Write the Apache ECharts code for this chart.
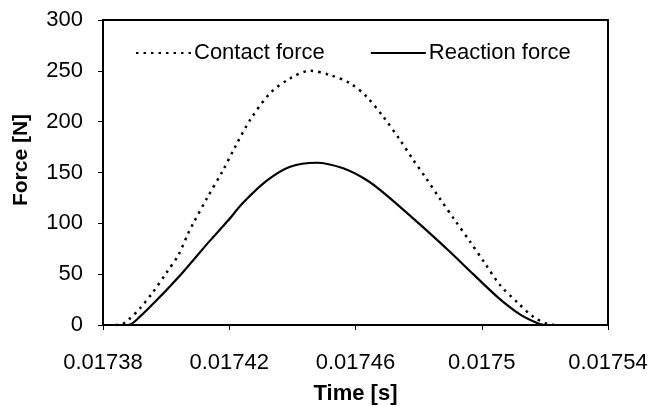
<!DOCTYPE html>
<html>
<head>
<meta charset="utf-8">
<script src="https://cdn.jsdelivr.net/npm/echarts@6/dist/echarts.min.js"></script>
<style>
html,body{margin:0;padding:0;background:#fff;}
#chart{width:664px;height:406px;}
</style>
</head>
<body>
<div id="chart"></div>
<script>
// Time [s]
const contactTime = [0.017384, 0.017386, 0.017388, 0.0173917, 0.0173954, 0.0174002, 0.0174039, 0.017407, 0.0174086, 0.017413, 0.017418, 0.017422, 0.0174266, 0.0174329, 0.0174393, 0.0174456, 0.0174519, 0.0174583, 0.0174635, 0.0174688, 0.0174741, 0.0174783, 0.017482, 0.0174868, 0.0174915, 0.0174963, 0.017501, 0.0175058, 0.0175116, 0.0175163, 0.0175211, 0.0175237];
// Force [N]
const contactForce = [0, 0.7, 4.9, 16.4, 30.5, 51.8, 68.9, 90.2, 100, 125, 152, 176, 201.6, 227.9, 242.6, 250, 245.9, 237.7, 224.6, 204.9, 182, 162.3, 145.9, 124, 103, 82, 60.7, 39.3, 21.3, 8.2, 0.7, 0];

const reactionTime = [0.017385, 0.017388, 0.0173917, 0.0173981, 0.0174049, 0.0174081, 0.0174139, 0.0174197, 0.0174243, 0.0174319, 0.0174393, 0.0174477, 0.0174561, 0.0174635, 0.0174693, 0.0174813, 0.0174899, 0.0174973, 0.0175052, 0.0175121, 0.0175179, 0.01752];
const reactionForce = [0, 0, 8.2, 27.9, 50.5, 62, 83, 103, 120, 142, 155.7, 159.6, 154.1, 142.6, 129, 96.5, 72, 50, 27, 10.5, 1.5, 0];

const xTickLabels = ["0.01738", "0.01742", "0.01746", "0.0175", "0.01754"];
const yTickLabels = ["0", "50", "100", "150", "200", "250", "300"];
const seriesNames = ["Contact force", "Reaction force"];

const T0 = 0.01738, TSTEP = 0.00004;
const pairs = (ts, fs) => ts.map((t, i) => [t - T0, fs[i]]);

const font = "Liberation Sans, Arial, sans-serif";
const chart = echarts.init(document.getElementById('chart'));
chart.setOption({
  animation: false,
  backgroundColor: '#fff',
  grid: { left: 103, right: 56, top: 20, bottom: 81, show: true, borderColor: '#000', borderWidth: 2,
          containLabel: false, outerBoundsMode: 'none' },
  legend: {
    left: 130, top: 37, itemWidth: 55, itemHeight: 20, itemGap: 45,
    itemStyle: { opacity: 0 },
    textStyle: { fontFamily: font, fontSize: 22, color: '#000', padding: [0, 0, 0, -2] },
    data: seriesNames
  },
  xAxis: {
    type: 'value', min: 0, max: TSTEP * 4, interval: TSTEP,
    axisLine: { show: true, onZero: false, lineStyle: { color: '#000', width: 2 } },
    axisTick: { show: true, inside: false, length: 5, lineStyle: { color: '#000', width: 1 } },
    splitLine: { show: false },
    axisLabel: {
      margin: 27, fontFamily: font, fontSize: 22, color: '#000',
      formatter: (v) => xTickLabels[Math.round(v / TSTEP)]
    },
    name: 'Time [s]', nameLocation: 'middle', nameGap: 58,
    nameTextStyle: { fontFamily: font, fontSize: 22, fontWeight: 'bold', color: '#000' }
  },
  yAxis: {
    type: 'value', min: 0, max: 300, interval: 50,
    axisLine: { show: true, lineStyle: { color: '#000', width: 2 } },
    axisTick: { show: true, inside: false, length: 5, lineStyle: { color: '#000', width: 1 } },
    splitLine: { show: false },
    axisLabel: {
      margin: 20, fontFamily: font, fontSize: 22, color: '#000',
      formatter: (v) => yTickLabels[Math.round(v / 50)]
    }
  },
  graphic: [{
    type: 'text', x: 21, y: 160, rotation: Math.PI / 2,
    style: { text: 'Force [N]', fontFamily: font, fontSize: 21, fontWeight: 'bold', fill: '#000', align: 'center', verticalAlign: 'middle' }
  }],
  series: [
    {
      name: seriesNames[0], type: 'line', data: pairs(contactTime, contactForce),
      showSymbol: false, symbol: 'none', smooth: 0.3,
      lineStyle: { color: '#000', width: 2.5, type: [2.5, 5], cap: 'butt' },
      itemStyle: { color: '#000' }
    },
    {
      name: seriesNames[1], type: 'line', data: pairs(reactionTime, reactionForce),
      showSymbol: false, symbol: 'none', smooth: 0.3,
      lineStyle: { color: '#000', width: 2.2, type: 'solid' },
      itemStyle: { color: '#000' }
    }
  ]
});
</script>
</body>
</html>
